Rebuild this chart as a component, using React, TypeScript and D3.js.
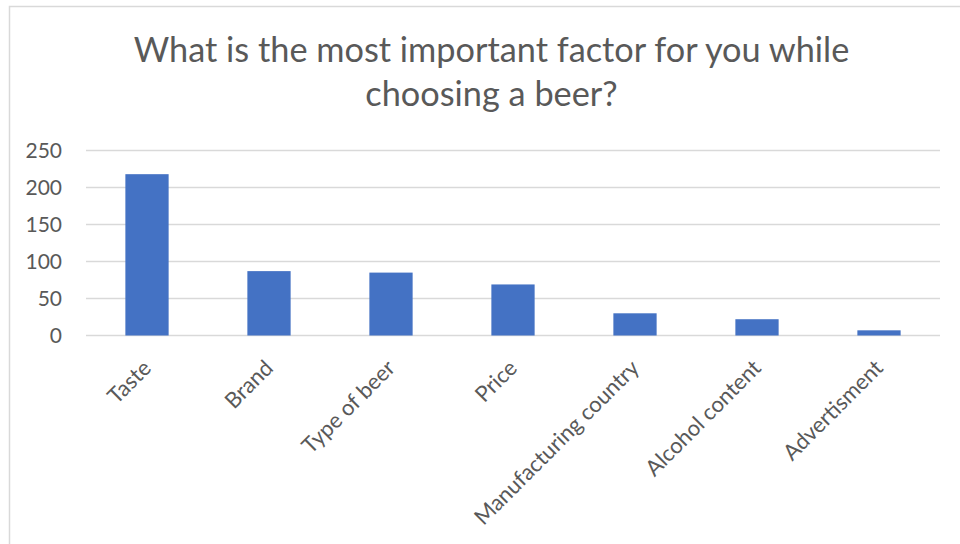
import React from "react";
import * as d3 from "d3";

const categories = ["Taste", "Brand", "Type of beer", "Price", "Manufacturing country", "Alcohol content", "Advertisment"];
const values = [218, 87, 85, 69, 30, 22, 7];
const yTicks = [0, 50, 100, 150, 200, 250];
const titleLines = ["What is the most important factor for you while", "choosing a beer?"];

const W = 960;
const H = 544;
const FONT = "Lato, 'Open Sans', sans-serif";
const TEXT = "#595959";
const GRID = "#D9D9D9";
const BAR = "#4472C4";

export default function App() {
  const x = d3
    .scaleBand<string>()
    .domain(categories)
    .range([86, 940])
    .paddingInner(1.82 / 2.82)
    .paddingOuter(1.82 / 2.82 / 2);
  const y = d3.scaleLinear().domain([0, 250]).range([335.5, 150.5]);

  return (
    <svg
      width={W}
      height={H}
      style={{ position: "absolute", left: 0, top: 0, display: "block", background: "#fff" }}
      fontFamily={FONT}
    >
      <rect x={9.5} y={6.5} width={1000} height={1000} fill="#fff" stroke={GRID} strokeWidth={1.5} />
      {titleLines.map((t, i) => (
        <text key={i} x={491.5} y={62 + i * 44} textAnchor="middle" fontSize={34.3} fill={TEXT}>
          {t}
        </text>
      ))}
      {yTicks.map((t) => (
        <g key={t}>
          <line x1={86} x2={940} y1={y(t)} y2={y(t)} stroke={GRID} strokeWidth={1.5} />
          <text x={62} y={y(t)} dy="0.36em" textAnchor="end" fontSize={21} fill={TEXT}>
            {t}
          </text>
        </g>
      ))}
      {categories.map((c, i) => (
        <rect
          key={c}
          x={x(c)}
          y={y(values[i])}
          width={x.bandwidth()}
          height={y(0) - y(values[i])}
          fill={BAR}
        />
      ))}
      {categories.map((c) => {
        const cx = (x(c) as number) + x.bandwidth() / 2;
        return (
          <text
            key={c}
            transform={`translate(${cx},364) rotate(-45)`}
            textAnchor="end"
            dy="0.35em"
            fontSize={22}
            fill={TEXT}
          >
            {c}
          </text>
        );
      })}
    </svg>
  );
}
